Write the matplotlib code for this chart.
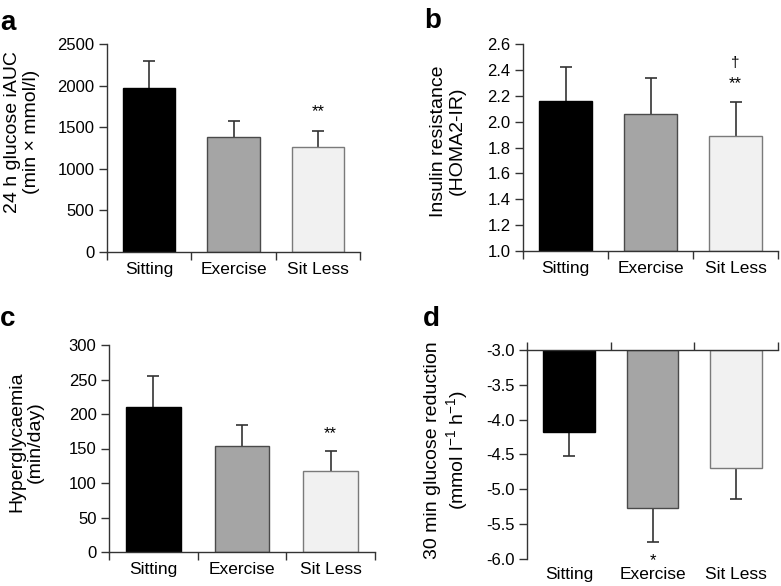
import numpy as np
import matplotlib
matplotlib.use('Agg')
import matplotlib.pyplot as plt
from matplotlib.ticker import FormatStrFormatter, MultipleLocator

plt.rcParams['font.family'] = ['Liberation Sans', 'DejaVu Sans']
plt.rcParams['mathtext.fontset'] = 'custom'
plt.rcParams['mathtext.rm'] = 'Liberation Sans'
plt.rcParams['mathtext.it'] = 'Liberation Sans'
plt.rcParams['axes.unicode_minus'] = False

groups = ['Sitting', 'Exercise', 'Sit Less']
bar_colors = ['#000000', '#a5a5a5', '#f1f1f1']
edge_colors = ['#000000', '#4a4a4a', '#7a7a7a']

# panel a: 24 h glucose iAUC
iauc_mean = [1975, 1380, 1260]
iauc_err = [325, 195, 190]
# panel b: HOMA2-IR
homa_mean = [2.16, 2.06, 1.89]
homa_err = [0.26, 0.28, 0.26]
# panel c: hyperglycaemia
hyper_mean = [210, 153, 117]
hyper_err = [45, 31, 30]
# panel d: 30 min glucose reduction (bars hang from -3.0)
red_mean = [-4.17, -5.27, -4.69]
red_err = [0.35, 0.48, 0.45]

W, H = 781, 586
fig = plt.figure(figsize=(W / 100, H / 100), dpi=100)


def px_axes(left, top, right, bottom):
    return fig.add_axes([left / W, 1 - bottom / H, (right - left) / W, (bottom - top) / H])


def style_axis(ax, top_axis=False):
    x = np.arange(len(groups)) + 0.5
    ax.set_xlim(0, 3)
    ax.set_xticks([0, 1, 2, 3])
    ax.set_xticklabels([])
    ax.set_xticks(x, minor=True)
    ax.set_xticklabels(groups, minor=True, fontsize=12.5)
    ax.tick_params(axis='x', which='minor', length=0, pad=7)
    ax.tick_params(axis='y', labelsize=12, length=6, width=1, color='#333333', pad=3)
    ax.tick_params(axis='x', which='major', length=6, width=1, color='#333333')
    ax.spines['right'].set_visible(False)
    if top_axis:
        ax.spines['bottom'].set_visible(False)
        ax.tick_params(axis='x', which='major', top=True, bottom=False)
    else:
        ax.spines['top'].set_visible(False)
    for s in ax.spines.values():
        s.set_color('#333333')
        s.set_linewidth(1)
    return x


def draw_bars(ax, means, errs, base=0, down=False):
    x = style_axis(ax, top_axis=down)
    means = np.array(means)
    ax.bar(x, means - base, bottom=base, width=0.62, color=bar_colors,
           edgecolor=edge_colors, linewidth=1, zorder=2)
    if down:
        yerr = [errs, [0] * len(errs)]
    else:
        yerr = [[0] * len(errs), errs]
    eb = ax.errorbar(x, means, yerr=yerr, fmt='none', ecolor='#333333',
                     elinewidth=1.2, capsize=4.5, capthick=1.2, zorder=1)
    # one-sided: hide the cap sitting on the bar end
    caps = eb[1]
    caps[1 if down else 0].set_visible(False)
    return x


# a
ax_a = px_axes(107, 44, 360, 252)
xa = draw_bars(ax_a, iauc_mean, iauc_err)
ax_a.set_ylim(0, 2500)
ax_a.yaxis.set_major_locator(MultipleLocator(500))
ax_a.text(xa[2], 1690, '**', ha='center', va='center', fontsize=12)

# b
ax_b = px_axes(523, 44, 778, 251)
xb = draw_bars(ax_b, homa_mean, homa_err, base=1.0)
ax_b.set_ylim(1.0, 2.6)
ax_b.yaxis.set_major_locator(MultipleLocator(0.2))
ax_b.yaxis.set_major_formatter(FormatStrFormatter('%.1f'))
ax_b.text(xb[2], 2.29, '**', ha='center', va='center', fontsize=12)
ax_b.text(xb[2], 2.455, '\u2020', ha='center', va='center', fontsize=11)

# c
ax_c = px_axes(109, 345, 375, 552)
xc = draw_bars(ax_c, hyper_mean, hyper_err)
ax_c.set_ylim(0, 300)
ax_c.yaxis.set_major_locator(MultipleLocator(50))
ax_c.text(xc[2], 171, '**', ha='center', va='center', fontsize=12)

# d
ax_d = px_axes(527, 350, 778, 559)
xd = draw_bars(ax_d, red_mean, red_err, base=-3.0, down=True)
ax_d.set_ylim(-6.0, -3.0)
ax_d.yaxis.set_major_locator(MultipleLocator(0.5))
ax_d.yaxis.set_major_formatter(FormatStrFormatter('%.1f'))
ax_d.tick_params(axis='x', which='minor', pad=6)
ax_d.text(xd[1], -6.03, '*', ha='center', va='center', fontsize=12, clip_on=False)

# y labels
ylab = dict(rotation=90, ha='center', va='center', fontsize=14, linespacing=1.15,
            multialignment='center')
fig.text(22 / W, 1 - 132 / H, '24 h glucose iAUC\n(min \u00d7 mmol/l)', **ylab)
fig.text(448 / W, 1 - 141 / H, 'Insulin resistance\n(HOMA2-IR)', **ylab)
fig.text(26 / W, 1 - 442 / H, 'Hyperglycaemia\n(min/day)', **ylab)
fig.text(447 / W, 1 - 450 / H, '30 min glucose reduction\n(mmol l$^{-1}$ h$^{-1}$)', **ylab)

# panel letters
for lbl, xp, yp in [('a', 0, 30), ('b', 424, 28), ('c', 0, 326), ('d', 423, 326)]:
    fig.text(xp / W, 1 - yp / H, lbl, fontsize=20, fontweight='bold', va='baseline', ha='left')

fig.savefig('out.png', dpi=100)
